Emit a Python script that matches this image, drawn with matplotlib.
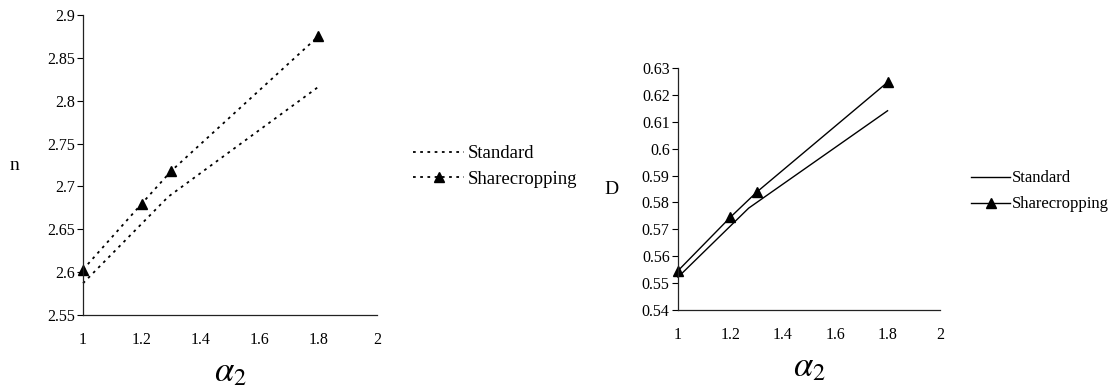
import matplotlib
matplotlib.use("Agg")
import matplotlib.pyplot as plt

plt.rcParams['font.family'] = ['Liberation Serif', 'DejaVu Serif']
plt.rcParams['mathtext.fontset'] = 'stix'

# alpha_2 values
share_x = [1.0, 1.2, 1.3, 1.8]
std_x_n = [1.0, 1.29, 1.8]
std_x_d = [1.0, 1.27, 1.8]

# n panel
n_standard = [2.587, 2.688, 2.816]
n_share = [2.603, 2.680, 2.718, 2.875]

# D panel
d_standard = [0.5522, 0.5779, 0.6141]
d_share = [0.5546, 0.5745, 0.5838, 0.6247]

x_ticks = [1, 1.2, 1.4, 1.6, 1.8, 2]
x_tick_labels = ['1', '1.2', '1.4', '1.6', '1.8', '2']
n_ticks = [2.55, 2.6, 2.65, 2.7, 2.75, 2.8, 2.85, 2.9]
n_tick_labels = ['2.55', '2.6', '2.65', '2.7', '2.75', '2.8', '2.85', '2.9']
d_ticks = [0.54, 0.55, 0.56, 0.57, 0.58, 0.59, 0.6, 0.61, 0.62, 0.63]
d_tick_labels = ['0.54', '0.55', '0.56', '0.57', '0.58', '0.59', '0.6', '0.61', '0.62', '0.63']

fig = plt.figure(figsize=(11.1, 3.92), dpi=100)
ax1 = fig.add_axes([0.0748, 0.1964, 0.2648, 0.7653])
ax2 = fig.add_axes([0.6108, 0.2092, 0.2360, 0.6173])


def style(ax, yticks, ylabels, ylim):
    for s in ['top', 'right']:
        ax.spines[s].set_visible(False)
    for s in ['left', 'bottom']:
        ax.spines[s].set_color('#222222')
        ax.spines[s].set_linewidth(0.9)
    ax.set_xlim(1, 2)
    ax.set_ylim(*ylim)
    ax.set_xticks(x_ticks)
    ax.set_xticklabels(x_tick_labels)
    ax.set_yticks(yticks)
    ax.set_yticklabels(ylabels)
    ax.tick_params(axis='y', direction='out', length=4, width=0.8, labelsize=11.5, pad=2)
    ax.tick_params(axis='x', length=0, labelsize=11.5, pad=12)
    ax.set_xlabel(r'$\alpha_2$', fontsize=25, labelpad=6)


dots = (0, (1.5, 2.5))
ax1.plot(std_x_n, n_standard, color='black', linestyle=dots, linewidth=1.3,
         label='Standard', clip_on=False)
ax1.plot(share_x, n_share, color='black', linestyle=dots, linewidth=1.3,
         marker='^', markersize=7, label='Sharecropping', clip_on=False)
style(ax1, n_ticks, n_tick_labels, (2.55, 2.9))
ax1.set_ylabel('n', fontsize=14, rotation=0, labelpad=23, va='center')
ax1.legend(loc='center left', bbox_to_anchor=(1.122, 0.495), frameon=False,
           fontsize=13.5, handlelength=2.75, handletextpad=0.2, labelspacing=0.45,
           borderpad=0, borderaxespad=0)

ax2.plot(std_x_d, d_standard, color='black', linewidth=1.0, label='Standard', clip_on=False)
ax2.plot(share_x, d_share, color='black', linewidth=1.0, marker='^', markersize=7,
         label='Sharecropping', clip_on=False)
style(ax2, d_ticks, d_tick_labels, (0.54, 0.63))
ax2.set_ylabel('D', fontsize=14, rotation=0, labelpad=22, va='center')
ax2.legend(loc='center left', bbox_to_anchor=(1.12, 0.49), frameon=False,
           fontsize=12, handlelength=2.3, handletextpad=0.15, labelspacing=0.6,
           borderpad=0, borderaxespad=0)

fig.savefig('out.png', dpi=100)
